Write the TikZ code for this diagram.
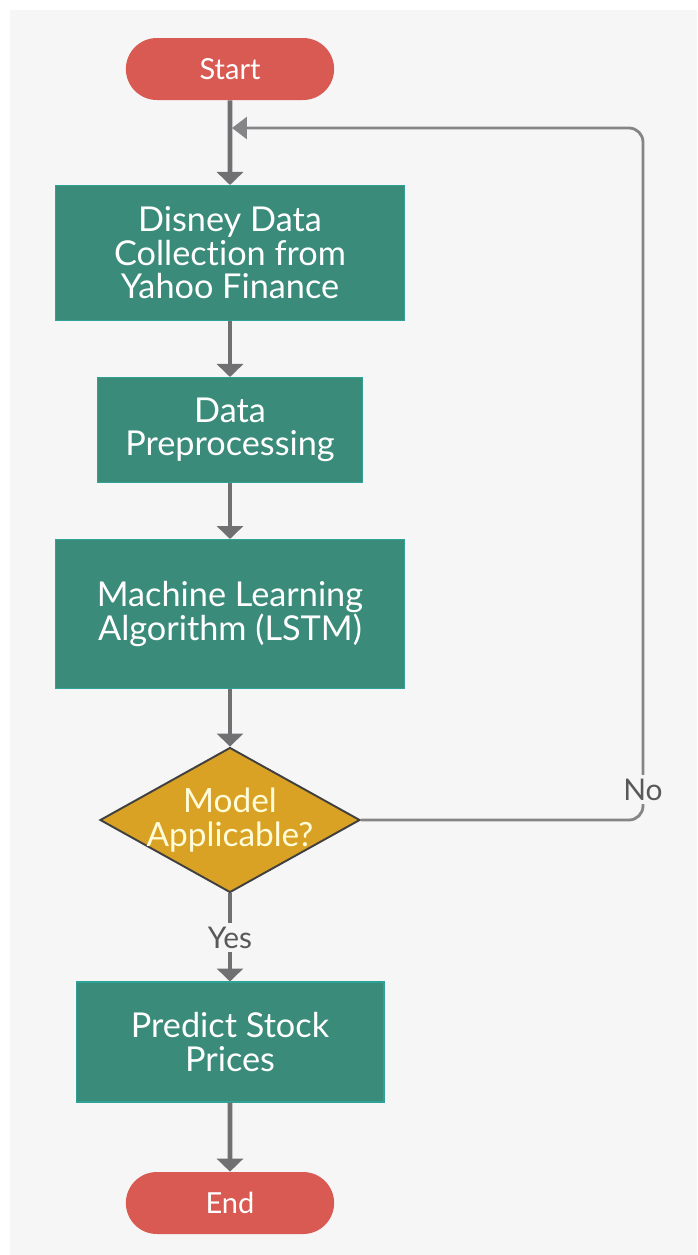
\documentclass[tikz,border=0pt]{standalone}
\usepackage{fontspec}
\setmainfont{Lato}[Ligatures={NoCommon,NoRare}]
\usepackage{tikz}
\usetikzlibrary{arrows.meta,shapes.geometric,shapes.misc}
\definecolor{bggray}{RGB}{246,246,246}
\definecolor{teal}{RGB}{58,139,122}
\definecolor{redpill}{RGB}{216,90,82}
\definecolor{gold}{RGB}{218,162,36}
\definecolor{linegray}{RGB}{112,112,114}
\tikzstyle{terminal}=[rounded rectangle, fill=redpill, text=white, minimum width=4.4cm, minimum height=1.24cm, font=\fontsize{16.5}{18}\selectfont]
\tikzstyle{process}=[rectangle, fill=teal, draw=teal!80!cyan, line width=0.6pt, text=white, align=center, font=\fontsize{19.5}{19}\selectfont]
\tikzstyle{decision}=[diamond, fill=gold, draw=black!75, line width=1.1pt, minimum width=5.2cm, minimum height=2.9cm, inner sep=0pt]
\tikzstyle{choice}=[fill=bggray, text=black!65, inner sep=2pt, font=\fontsize{17}{19}\selectfont]
\tikzstyle{arrow}=[draw=linegray, line width=2.6pt, -{Triangle[length=2.6mm, width=5.2mm]}]
\tikzstyle{loopback}=[draw=linegray!85, line width=1.6pt, rounded corners=8pt, -{Triangle[length=3mm, width=4.4mm]}]
\begin{document}
\begin{tikzpicture}[x=0.02cm, y=-0.02cm]
		   \useasboundingbox (0,0) rectangle (697,1255);
		   \fill[white] (0,0) rectangle (697,1255);
		   \fill[bggray] (10,10) rectangle (697,1255);
		   \begin{scope}
			   \node (0) at (230, 69)[terminal] {Start};
			   \node (1) at (230, 253)[process, minimum width=7cm, minimum height=2.7cm] {Disney Data\\Collection from\\Yahoo Finance};
			   \node (2) at (230, 430)[process, minimum width=5.3cm, minimum height=2.1cm] {Data\\Preprocessing};
			   \node (3) at (230, 614)[process, minimum width=7cm, minimum height=2.98cm] {Machine Learning\\Algorithm (LSTM)};
			   \node (4) at (230, 820)[decision, label={[text=yellow!15, align=center, font=\fontsize{19}{19}\selectfont]center:Model\\Applicable?}] {};
			   \node (5) at (230, 1042)[process, minimum width=6.16cm, minimum height=2.4cm] {Predict Stock\\Prices};
			   \node (6) at (230, 1203)[terminal] {End};
			   \coordinate (c1) at (643, 128);
			   \coordinate (c2) at (232, 128);
		   \end{scope}
		   \begin{scope}
			   \path [arrow] (0) -- (1);
			   \path [arrow] (1) -- (2);
			   \path [arrow] (2) -- (3);
			   \path [arrow] (3) -- (4);
			   \path [arrow] (4) -- node[choice] {Yes} (5);
			   \path [arrow] (5) -- (6);
			   \path [loopback] (4.east) -| node[choice, pos=0.522] {No} (c1) -- (c2);
		   \end{scope}
	   \end{tikzpicture}
\end{document}
